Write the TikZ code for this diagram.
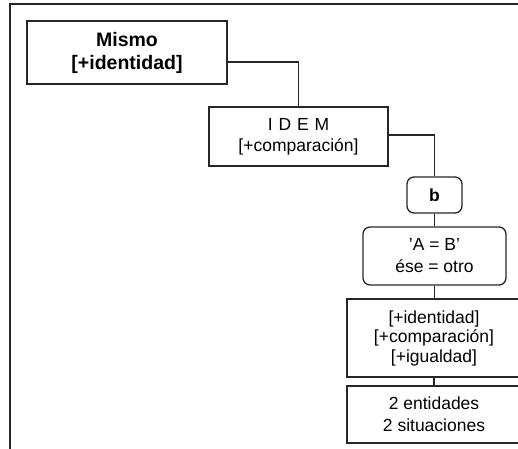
\documentclass[tikz,border=0pt]{standalone}
\usepackage{fontspec}
\setmainfont{Liberation Sans}
\begin{document}
\begin{tikzpicture}[x=1pt,y=-1pt,
  box/.style={draw=black!85, line width=1.3pt, rectangle, align=center, inner sep=0pt},
  roundbox/.style={box, rounded corners=7pt},
  txt/.style={font=\fontsize{17.5}{21}\selectfont},
  bigtxt/.style={font=\bfseries\fontsize{19.5}{23}\selectfont},
  link/.style={draw=black!85, line width=1.3pt}]
\useasboundingbox (0,0) rectangle (518,448);
\clip (0,0) rectangle (518,448);
% outer frame, running past the right and bottom edges
\draw[line width=1.5pt, black!85] (10,4) rectangle (540,470);

\node[box, bigtxt, minimum width=200pt, minimum height=63pt] (mismo) at (127,52.5)
  {Mismo\\{[+identidad]}};
\node[box, txt, minimum width=179pt, minimum height=59pt] (idem) at (298.5,136.5)
  {I\,\,D\,\,E\,\,M\\{[+comparación]}};
\node[roundbox, txt, font=\bfseries\fontsize{17.5}{21}\selectfont, minimum width=55pt, minimum height=36pt] (b) at (434.5,195) {b};
\node[roundbox, txt, minimum width=143pt, minimum height=58pt, font=\fontsize{17.5}{22}\selectfont] (ab) at (434.5,256)
  {'A = B'\\ése = otro};
\node[box, txt, minimum width=174pt, minimum height=78pt, font=\fontsize{17.5}{19.5}\selectfont] (rasgos) at (434,338)
  {{[+identidad]}\\{[+comparación]}\\{[+igualdad]}};
\node[box, txt, minimum width=174pt, minimum height=57pt, font=\fontsize{17.5}{22}\selectfont] (ent) at (434,414.5)
  {2 entidades\\2 situaciones};

\draw[link] ([yshift=-9.5pt]mismo.east) -| (idem.north);
\draw[link] ([yshift=1.5pt]idem.east) -| (b.north);
\draw[link] (b.south) -- (ab.north);
\draw[link] (ab.south) -- (ab.south |- rasgos.north);
\draw[link] (rasgos.south) -- (rasgos.south |- ent.north);
\end{tikzpicture}
\end{document}
